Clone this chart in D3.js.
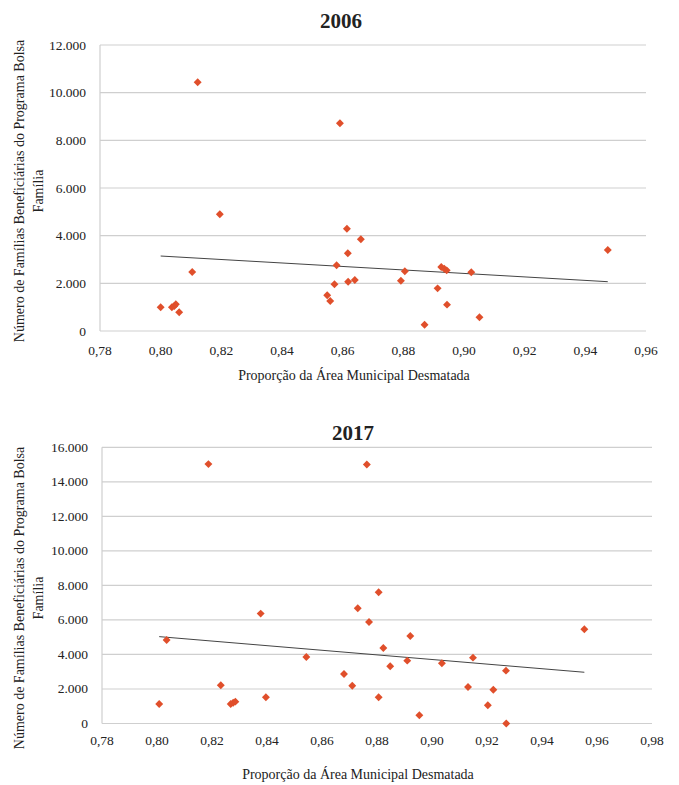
<!DOCTYPE html>
<html>
<head>
<meta charset="utf-8">
<script src="https://cdn.jsdelivr.net/npm/d3@7"></script>
<style>
  body { margin: 0; background: #fff; }
  text { font-family: "Liberation Serif", "DejaVu Serif", serif; fill: #222; }
</style>
</head>
<body>
<div class="d3-container"></div>
<script>
// 2006 - proportion deforested vs families in Bolsa Familia
const x2006 = [0.800, 0.8037, 0.8045, 0.805, 0.8061, 0.8104, 0.8122, 0.8195, 0.8549, 0.8559,
  0.8573, 0.858, 0.8591, 0.8614, 0.8617, 0.8618, 0.864, 0.866, 0.8792, 0.8805,
  0.887, 0.8913, 0.8925, 0.8935, 0.8943, 0.8944, 0.9024, 0.9051, 0.9474];
const y2006 = [1000, 1000, 1050, 1120, 785, 2475, 10435, 4896, 1498, 1259,
  1959, 2756, 8714, 4292, 3260, 2069, 2140, 3847, 2110, 2505,
  265, 1790, 2685, 2615, 2545, 1105, 2462, 575, 3398];
const trend2006 = [[0.800, 3146], [0.9474, 2069]];

// 2017
const x2017 = [0.8008, 0.8035, 0.8187, 0.8232, 0.8268, 0.8277, 0.8285, 0.8377, 0.8396, 0.8543,
  0.868, 0.871, 0.873, 0.8763, 0.8771, 0.8806, 0.8806, 0.8823, 0.8848, 0.891,
  0.8921, 0.8954, 0.9036, 0.9131, 0.9149, 0.9203, 0.9223, 0.9269, 0.927, 0.9554];
const y2017 = [1130, 4840, 15026, 2214, 1130, 1206, 1265, 6365, 1519, 3855,
  2870, 2191, 6677, 15003, 5884, 7606, 1519, 4377, 3316, 3641,
  5072, 475, 3490, 2116, 3814, 1055, 1959, 3061, 0, 5461];
const trend2017 = [[0.8008, 5032], [0.9554, 2968]];

const xTicks2006 = [0.78, 0.80, 0.82, 0.84, 0.86, 0.88, 0.90, 0.92, 0.94, 0.96];
const yTicks2006 = [0, 2000, 4000, 6000, 8000, 10000, 12000];
const xTicks2017 = [0.78, 0.80, 0.82, 0.84, 0.86, 0.88, 0.90, 0.92, 0.94, 0.96, 0.98];
const yTicks2017 = [0, 2000, 4000, 6000, 8000, 10000, 12000, 14000, 16000];

const width = 679;
const height = 785;

const svg = d3.select(".d3-container")
  .append("svg")
  .attr("width", width)
  .attr("height", height);

const fmtY = d => d === 0 ? "0" : d3.format(",")(d).replace(/,/g, ".");
const fmtX = d => d.toFixed(2).replace(".", ",");

function drawChart(opt) {
  const g = svg.append("g");
  const x = d3.scaleLinear().domain(opt.xDomain).range([opt.left, opt.right]);
  const y = d3.scaleLinear().domain(opt.yDomain).range([opt.bottom, opt.top]);

  // gridlines
  g.append("g")
    .selectAll("line")
    .data(opt.yTicks)
    .join("line")
    .attr("x1", opt.left).attr("x2", opt.right)
    .attr("y1", d => y(d)).attr("y2", d => y(d))
    .attr("stroke", "#cfcfcf")
    .attr("stroke-width", 1.2);

  // left axis line
  g.append("line")
    .attr("x1", opt.left).attr("x2", opt.left)
    .attr("y1", y(opt.yDomain[1])).attr("y2", opt.bottom)
    .attr("stroke", "#cfcfcf")
    .attr("stroke-width", 1.2);

  // y tick labels
  g.append("g")
    .selectAll("text")
    .data(opt.yTicks)
    .join("text")
    .attr("x", opt.left - 14)
    .attr("y", d => y(d) + 4.5)
    .attr("text-anchor", "end")
    .attr("font-size", 13.5)
    .text(fmtY);

  // x tick labels
  g.append("g")
    .selectAll("text")
    .data(opt.xTicks)
    .join("text")
    .attr("x", d => x(d))
    .attr("y", opt.bottom + opt.xLabelOffset)
    .attr("text-anchor", "middle")
    .attr("font-size", 13.5)
    .text(fmtX);

  // trend line
  g.append("path")
    .datum(opt.trend)
    .attr("d", d3.line().x(d => x(d[0])).y(d => y(d[1])))
    .attr("stroke", "#444")
    .attr("stroke-width", 1)
    .attr("fill", "none");

  // points
  g.append("g")
    .selectAll("path")
    .data(d3.range(opt.xs.length))
    .join("path")
    .attr("transform", i => `translate(${x(opt.xs[i])},${y(opt.ys[i])}) rotate(45)`)
    .attr("d", "M-2.8,-2.8h5.6v5.6h-5.6z")
    .attr("fill", "#e04f2b");

  // title
  g.append("text")
    .attr("x", opt.titleX)
    .attr("y", opt.titleY)
    .attr("text-anchor", "middle")
    .attr("font-size", 21)
    .attr("font-weight", "bold")
    .text(opt.title);

  // x axis title
  g.append("text")
    .attr("x", opt.xTitleX)
    .attr("y", opt.xTitleY)
    .attr("text-anchor", "middle")
    .attr("font-size", 14)
    .text("Proporção da Área Municipal Desmatada");

  // y axis title (two lines)
  const yt = g.append("text")
    .attr("transform", `translate(${opt.yTitleX},${opt.yTitleY}) rotate(-90)`)
    .attr("text-anchor", "middle")
    .attr("font-size", 14);
  yt.append("tspan").attr("x", 0).attr("dy", 0)
    .text("Número de Famílias Beneficiárias do Programa Bolsa");
  yt.append("tspan").attr("x", 0).attr("dy", 19)
    .text("Família");
}

drawChart({
  xs: x2006, ys: y2006, trend: trend2006,
  xTicks: xTicks2006, yTicks: yTicks2006,
  xDomain: [0.78, 0.96], yDomain: [0, 12000],
  left: 100, right: 646, top: 45, bottom: 331,
  xLabelOffset: 24,
  title: "2006", titleX: 341, titleY: 28,
  xTitleX: 354, xTitleY: 380,
  yTitleX: 24, yTitleY: 191
});

drawChart({
  xs: x2017, ys: y2017, trend: trend2017,
  xTicks: xTicks2017, yTicks: yTicks2017,
  xDomain: [0.78, 0.98], yDomain: [0, 16000],
  left: 102, right: 652, top: 447.3, bottom: 723.5,
  xLabelOffset: 21,
  title: "2017", titleX: 353, titleY: 440,
  xTitleX: 358, xTitleY: 779,
  yTitleX: 24, yTitleY: 598
});
</script>
</body>
</html>
